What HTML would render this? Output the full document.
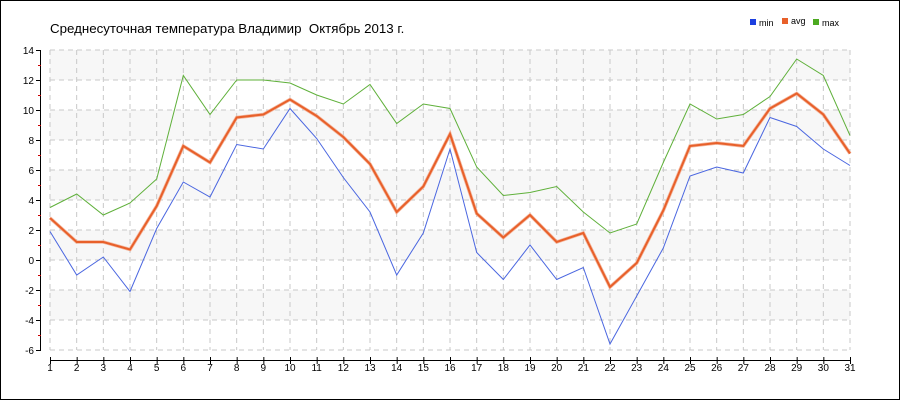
<!DOCTYPE html>
<html><head><meta charset="utf-8"><style>
html,body{margin:0;padding:0;background:#fff}
#c{position:relative;width:898px;height:398px;border:1px solid #000;overflow:hidden}
text{font-family:"Liberation Sans",sans-serif}
</style></head><body><div id="c"><svg id="s" width="898" height="398" xmlns="http://www.w3.org/2000/svg" style="position:absolute;left:-1px;top:-1px;overflow:visible"></svg></div>
<script>
const s=document.getElementById('s');
const X=d=>50+(d-1)*800/30, Y=v=>50+(14-v)*15;
let h='';
for(const b of [12,8,4,0,-4]) h+=`<rect x="50" y="${Y(b+2)}" width="800" height="30" fill="#f7f7f7"/>`;
for(let v=-6;v<=14;v+=2) h+=`<line x1="50" x2="850" y1="${Y(v)}" y2="${Y(v)}" stroke="#c8c8c8" stroke-dasharray="5,4"/>`;
for(let d=1;d<=31;d++) h+=`<line x1="${X(d)}" x2="${X(d)}" y1="50" y2="350" stroke="#c8c8c8" stroke-dasharray="5,4"/>`;
h+=`<line x1="40.5" x2="40.5" y1="50" y2="350" stroke="#000"/>`;
for(let v=-6;v<=14;v+=2){h+=`<line x1="36" x2="41" y1="${Y(v)+.5}" y2="${Y(v)+.5}" stroke="#000"/><text x="34" y="${Y(v)+4}" font-size="10" text-anchor="end">${v}</text>`;
 if(v<14)h+=`<line x1="38" x2="41" y1="${Y(v+1)+.5}" y2="${Y(v+1)+.5}" stroke="#c00"/>`;}
h+=`<line x1="50" x2="850" y1="360.5" y2="360.5" stroke="#000"/>`;
for(let d=1;d<=31;d++) h+=`<line x1="${X(d)+.5}" x2="${X(d)+.5}" y1="357" y2="364" stroke="#000"/><text x="${X(d)}" y="371" font-size="10" text-anchor="middle">${d}</text>`;
const mx=[3.5,4.4,3.0,3.8,5.4,12.3,9.7,12,12,11.8,11.0,10.4,11.7,9.1,10.4,10.1,6.2,4.3,4.5,4.9,3.2,1.8,2.4,6.5,10.4,9.4,9.7,10.9,13.4,12.3,8.3];
const av=[2.8,1.2,1.2,0.7,3.6,7.6,6.5,9.5,9.7,10.7,9.6,8.2,6.4,3.2,4.9,8.4,3.1,1.5,3.0,1.2,1.8,-1.8,-0.2,3.3,7.6,7.8,7.6,10.1,11.1,9.7,7.1];
const mn=[1.9,-1.0,0.2,-2.1,2.1,5.2,4.2,7.7,7.4,10.1,8.1,5.5,3.2,-1.0,1.8,7.4,0.5,-1.3,1.0,-1.3,-0.5,-5.6,-2.4,0.8,5.6,6.2,5.8,9.5,8.9,7.4,6.3];
const P=a=>a.map((v,i)=>X(i+1).toFixed(1)+','+Y(v).toFixed(1)).join(' ');
h+=`<polyline points="${P(mx)}" fill="none" stroke="#5fb03a" stroke-width="1"/>`;
h+=`<polyline points="${P(mn)}" fill="none" stroke="#4a66e0" stroke-width="1"/>`;
h+=`<polyline points="${P(av)}" fill="none" stroke="#f4b8a0" stroke-width="3.5"/>`;
h+=`<polyline points="${P(av)}" fill="none" stroke="#e8602a" stroke-width="2"/>`;
h+=`<text x="50" y="33" font-size="13.3" xml:space="preserve" style="white-space:pre">Среднесуточная температура Владимир  Октябрь 2013 г.</text>`;
h+=`<rect x="750" y="19" width="6" height="6" fill="#1c3fe0"/><text x="759" y="26" font-size="9">min</text>`;
h+=`<rect x="782" y="18" width="6" height="6" fill="#e8602a"/><text x="791" y="24" font-size="9">avg</text>`;
h+=`<rect x="813" y="19" width="6" height="6" fill="#4caa20"/><text x="822" y="26" font-size="9">max</text>`;
s.innerHTML=h;
</script></body></html>
